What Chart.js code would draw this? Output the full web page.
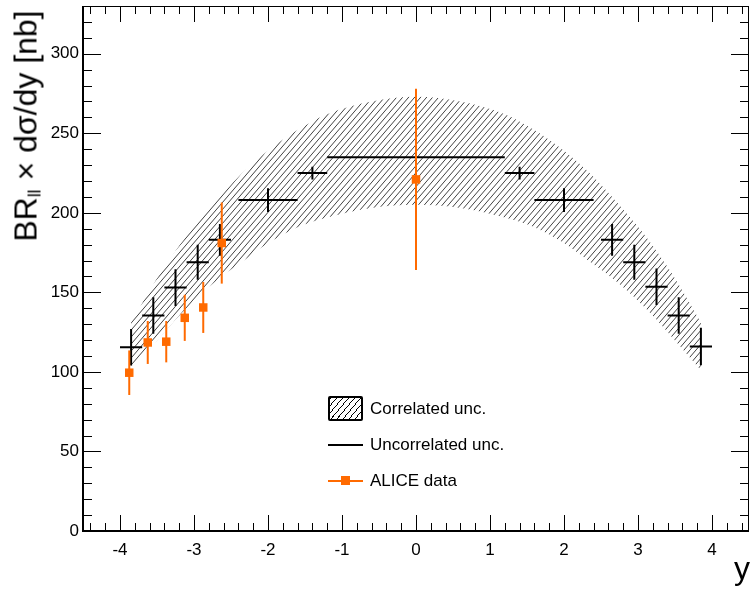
<!DOCTYPE html>
<html>
<head>
<meta charset="utf-8">
<script src="https://cdn.jsdelivr.net/npm/chart.js@4.4.0/dist/chart.umd.min.js"></script>
<style>
    body { margin: 0; background: #fff; }
    #wrap { position: relative; width: 755px; height: 595px; font-family: "Liberation Sans", Arial, sans-serif; color: #000; }
    #chart { position: absolute; left: 0; top: 0; }
    #y-title { position: absolute; left: 27px; top: 126px; transform: translate(-50%, -50%) rotate(-90deg); white-space: nowrap; font-size: 32px; line-height: 1; }
    #y-title sub { font-size: 0.55em; vertical-align: -0.25em; }
    #x-title { position: absolute; right: 5px; top: 552px; font-size: 32px; line-height: 1; }
    #legend-container { position: absolute; left: 328px; top: 396px; }
</style>
</head>
<body>
<div id="wrap">
    <canvas id="chart" width="755" height="595"></canvas>
    <div id="y-title">BR<sub>ll</sub> × dσ/dy [nb]</div>
    <div id="x-title">y</div>
    <div id="legend-container"></div>
</div>
<script>
    // model points (black crosses): bin centres, bin edges, value, uncorrelated unc.
    const rapidity = [-3.85, -3.55, -3.25, -2.95, -2.65, -2.0, -1.4, 0, 1.4, 2.0, 2.65, 2.95, 3.25, 3.55, 3.85];
    const binLow = [-4.0, -3.7, -3.4, -3.1, -2.8, -2.4, -1.6, -1.2, 1.2, 1.6, 2.5, 2.8, 3.1, 3.4, 3.7];
    const binHigh = [-3.7, -3.4, -3.1, -2.8, -2.5, -1.6, -1.2, 1.2, 1.6, 2.4, 2.8, 3.1, 3.4, 3.7, 4.0];
    const modelValues = [115.5, 135.5, 153, 169, 183, 208, 225, 235, 225, 208, 183, 169, 153.5, 135.5, 116];
    const modelErrors = [11.5, 11.5, 11.5, 11, 10, 7.5, 4, 1, 4, 7.5, 10, 11, 11.5, 11.5, 11.8];

    // correlated uncertainty band (hatched)
    const bandRapidity = [-3.85, -3.55, -3.25, -2.95, -2.65, -2.3, -2.0, -1.6, -1.2, -0.6, 0, 0.6, 1.2, 1.6, 2.0, 2.3, 2.65, 2.95, 3.25, 3.55, 3.85];
    const bandUpper = [131, 155, 176, 194, 210, 227, 239, 252, 262, 270, 273, 270, 262, 252, 239, 227, 210, 194, 176, 155, 131];
    const bandLower = [101, 117, 133, 147, 159, 171, 181, 191, 197, 203, 205, 203, 197, 191, 181, 171, 159, 147, 133, 117, 101];

    // ALICE data
    const aliceRapidity = [-3.875, -3.625, -3.375, -3.125, -2.875, -2.625, 0];
    const aliceValues = [99.5, 118.5, 119, 134, 140.5, 181, 221];
    const aliceErrors = [14, 13.5, 13, 14.5, 16, 25.5, 57];

    const xTickLabels = [-4, -3, -2, -1, 0, 1, 2, 3, 4];
    const yTickLabels = [0, 50, 100, 150, 200, 250, 300];

    const ORANGE = '#ff6a00';
    const FONT = '"Liberation Sans", Arial, sans-serif';

    function makeHatch(w, h) {
        const c = document.createElement('canvas');
        c.width = w;
        c.height = h;
        const g = c.getContext('2d');
        g.strokeStyle = '#000';
        g.lineWidth = 0.75;
        for (let k = -1; k <= 1; k++) {
            g.beginPath();
            g.moveTo(k * w, h);
            g.lineTo(k * w + w, 0);
            g.stroke();
        }
        return g.createPattern(c, 'repeat');
    }

    const hatch = makeHatch(6, 7);

    // error bars + ROOT style frame with inner ticks
    const rootStyle = {
        id: 'rootStyle',
        beforeDatasetDraw(chart, args) {
            const ds = chart.data.datasets[args.index];
            if (ds.kind !== 'alice') return;
            const {ctx, scales: {y}} = chart;
            ctx.save();
            ctx.strokeStyle = ORANGE;
            ctx.lineWidth = 2;
            args.meta.data.forEach((pt, i) => {
                ctx.beginPath();
                ctx.moveTo(pt.x, y.getPixelForValue(aliceValues[i] - aliceErrors[i]));
                ctx.lineTo(pt.x, y.getPixelForValue(aliceValues[i] + aliceErrors[i]));
                ctx.stroke();
            });
            ctx.restore();
        },
        afterDatasetDraw(chart, args) {
            const ds = chart.data.datasets[args.index];
            if (ds.kind !== 'model') return;
            const {ctx, scales: {x, y}} = chart;
            ctx.save();
            ctx.strokeStyle = '#000';
            ctx.lineWidth = 2;
            args.meta.data.forEach((pt, i) => {
                ctx.beginPath();
                ctx.moveTo(x.getPixelForValue(binLow[i]), pt.y);
                ctx.lineTo(x.getPixelForValue(binHigh[i]), pt.y);
                ctx.moveTo(pt.x, y.getPixelForValue(modelValues[i] - modelErrors[i]));
                ctx.lineTo(pt.x, y.getPixelForValue(modelValues[i] + modelErrors[i]));
                ctx.stroke();
            });
            ctx.restore();
        },
        afterDraw(chart) {
            const {ctx, chartArea: a, scales: {x, y}} = chart;
            ctx.save();
            ctx.strokeStyle = '#000';
            ctx.lineWidth = 1;
            ctx.beginPath();
            // x ticks every 0.2, major every 1
            for (let k = -22; k <= 22; k++) {
                const px = Math.round(x.getPixelForValue(k * 0.2)) + 0.5;
                const len = k % 5 === 0 ? 16 : 8;
                ctx.moveTo(px, a.bottom);
                ctx.lineTo(px, a.bottom - len);
                ctx.moveTo(px, a.top);
                ctx.lineTo(px, a.top + len);
            }
            // y ticks every 10, major every 50
            for (let k = 0; k <= 33; k++) {
                const py = Math.round(y.getPixelForValue(k * 10)) + 0.5;
                const len = k % 5 === 0 ? 18 : 9;
                ctx.moveTo(a.left, py);
                ctx.lineTo(a.left + len, py);
                ctx.moveTo(a.right, py);
                ctx.lineTo(a.right - len, py);
            }
            ctx.stroke();
            ctx.strokeRect(a.left + 0.5, a.top + 0.5, a.right - a.left - 1, a.bottom - a.top - 1);
            ctx.lineWidth = 2;
            ctx.beginPath();
            ctx.moveTo(a.left, a.top);
            ctx.lineTo(a.left, a.bottom);
            ctx.lineTo(a.right, a.bottom);
            ctx.stroke();
            ctx.restore();
        }
    };

    const canvas = document.getElementById('chart');

    new Chart(canvas, {
        type: 'line',
        data: {
            datasets: [
                {
                    kind: 'alice',
                    label: 'ALICE data',
                    data: aliceRapidity.map((v, i) => ({x: v, y: aliceValues[i]})),
                    showLine: false,
                    pointStyle: 'rect',
                    pointRadius: 6,
                    pointBorderWidth: 0,
                    pointBackgroundColor: ORANGE,
                    borderColor: ORANGE,
                },
                {
                    kind: 'model',
                    label: 'Uncorrelated unc.',
                    data: rapidity.map((v, i) => ({x: v, y: modelValues[i]})),
                    showLine: false,
                    pointRadius: 0,
                },
                {
                    label: 'Correlated unc.',
                    data: bandRapidity.map((v, i) => ({x: v, y: bandUpper[i]})),
                    borderColor: 'rgba(0,0,0,0)',
                    borderWidth: 1,
                    pointRadius: 0,
                    cubicInterpolationMode: 'monotone',
                    backgroundColor: hatch,
                    fill: '+1',
                },
                {
                    label: 'band lower',
                    data: bandRapidity.map((v, i) => ({x: v, y: bandLower[i]})),
                    borderColor: 'rgba(0,0,0,0)',
                    borderWidth: 1,
                    pointRadius: 0,
                    cubicInterpolationMode: 'monotone',
                    fill: false,
                },
            ]
        },
        options: {
            responsive: false,
            animation: false,
            events: [],
            layout: {padding: {top: 3, right: 3, left: 0, bottom: 0}},
            plugins: {
                legend: {display: false},
                tooltip: {enabled: false},
            },
            scales: {
                x: {
                    type: 'linear',
                    min: -4.5,
                    max: 4.5,
                    grid: {display: false, drawTicks: false},
                    border: {display: false},
                    afterBuildTicks: (s) => { s.ticks = xTickLabels.map(v => ({value: v})); },
                    afterFit: (s) => {
                        s.height = 64;
                        s.paddingLeft = 0;
                        s.paddingRight = 0;
                    },
                    ticks: {color: '#000', font: {family: FONT, size: 17}, padding: 9, maxRotation: 0, autoSkip: false},
                },
                y: {
                    type: 'linear',
                    min: 0,
                    max: 330,
                    grid: {display: false, drawTicks: false},
                    border: {display: false},
                    afterBuildTicks: (s) => { s.ticks = yTickLabels.map(v => ({value: v})); },
                    afterFit: (s) => {
                        s.width = 83;
                        s.paddingTop = 0;
                        s.paddingBottom = 0;
                    },
                    ticks: {color: '#000', font: {family: FONT, size: 17}, padding: 4, autoSkip: false},
                },
            },
        },
        plugins: [rootStyle],
    });

    // legend (html)
    const legendItems = [
        {text: 'Correlated unc.', type: 'box'},
        {text: 'Uncorrelated unc.', type: 'line'},
        {text: 'ALICE data', type: 'marker'},
    ];
    const rowTops = [0, 36, 72];
    const legendContainer = document.getElementById('legend-container');
    legendItems.forEach((item, index) => {
        const row = document.createElement('div');
        row.style.position = 'absolute';
        row.style.left = '0';
        row.style.top = rowTops[index] + 'px';
        row.style.height = '26px';
        row.style.width = '220px';

        const sym = document.createElement('span');
        sym.style.position = 'absolute';
        sym.style.left = '0';
        sym.style.width = '35px';
        if (item.type === 'box') {
            sym.style.top = '0';
            sym.style.height = '25px';
            sym.style.boxSizing = 'border-box';
            sym.style.border = '2px solid #000';
            sym.style.borderRadius = '2px';
            sym.style.background = 'repeating-linear-gradient(130deg, #000 0 0.8px, transparent 0.8px 4.6px)';
        } else {
            sym.style.top = '12px';
            sym.style.height = '2px';
            sym.style.background = item.type === 'line' ? '#000' : ORANGE;
            if (item.type === 'marker') {
                const sq = document.createElement('span');
                sq.style.position = 'absolute';
                sq.style.left = '13px';
                sq.style.top = '-4px';
                sq.style.width = '9px';
                sq.style.height = '9px';
                sq.style.background = ORANGE;
                sym.appendChild(sq);
            }
        }

        const label = document.createElement('span');
        label.style.position = 'absolute';
        label.style.left = '42px';
        label.style.top = '3px';
        label.style.fontSize = '17px';
        label.style.lineHeight = '20px';
        label.style.whiteSpace = 'nowrap';
        label.textContent = item.text;

        row.appendChild(sym);
        row.appendChild(label);
        legendContainer.appendChild(row);
    });
</script>
</body>
</html>
